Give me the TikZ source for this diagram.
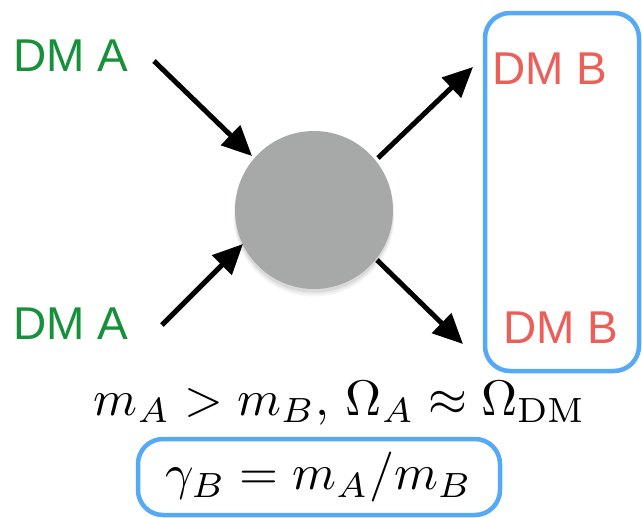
\documentclass[tikz,border=0pt]{standalone}
\usepackage{fontspec}
\newfontfamily\dmsans{Liberation Sans}
\usetikzlibrary{arrows.meta}
\definecolor{dmgreen}{HTML}{16903A}
\definecolor{dmred}{HTML}{EA5F58}
\definecolor{boxblue}{HTML}{55A9F6}
\definecolor{blobgray}{HTML}{A6A9A7}
\newcommand{\bigmath}[1]{\scalebox{5}{$#1$}}
\tikzset{
  dmlabel/.style={anchor=base west, inner sep=0pt, font=\dmsans\fontsize{46}{50}\selectfont},
  arr/.style={line width=5pt, -{Triangle[length=30pt,width=27pt]}},
  bluebox/.style={draw=boxblue, line width=4.5pt, rounded corners=25pt, inner sep=0pt},
  mathtext/.style={inner sep=0pt, font=\fontsize{10}{12}\selectfont}
}
\begin{document}
\begin{tikzpicture}[x=1pt,y=-1pt]
\useasboundingbox (0,0) rectangle (642,517);
% blob with soft shadow
\foreach \o/\d/\r in {0.04/6/80.5,0.05/5/79.5,0.07/3.5/79}{
  \fill[black, opacity=\o] (314,210+\d) circle (\r);
}
\node[circle, fill=blobgray, minimum size=158pt, inner sep=0pt] (c) at (314,210) {};
% labels
\node[dmlabel, text=dmgreen] (a1) at (13,71) {DM A};
\node[dmlabel, text=dmgreen] (a2) at (13,339) {DM A};
\node[dmlabel, text=dmred] (b1) at (492,84) {DM B};
\node[dmlabel, text=dmred] (b2) at (503,343) {DM B};
% boxes
\node[bluebox, minimum width=154pt, minimum height=358pt] (bbox) at (562,192) {};
\node[bluebox, minimum width=362pt, minimum height=76pt, mathtext] (gbox) at (319,477) {\bigmath{\gamma_B = m_A/m_B}};
\node[mathtext, anchor=base] (cond) at (340,415) {\bigmath{m_A > m_B,\, \Omega_A \approx \Omega_{\mathrm{DM}}}};
% arrows
\coordinate (s1) at (154,61);  \coordinate (t1) at (252,156);
\coordinate (s2) at (162,325); \coordinate (t2) at (243,244);
\coordinate (s3) at (378,158); \coordinate (t3) at (473,67);
\coordinate (s4) at (377,260); \coordinate (t4) at (463,344);
\draw[arr] (s1) -- (t1);
\draw[arr] (s2) -- (t2);
\draw[arr] (s3) -- (t3);
\draw[arr] (s4) -- (t4);
\end{tikzpicture}
\end{document}
